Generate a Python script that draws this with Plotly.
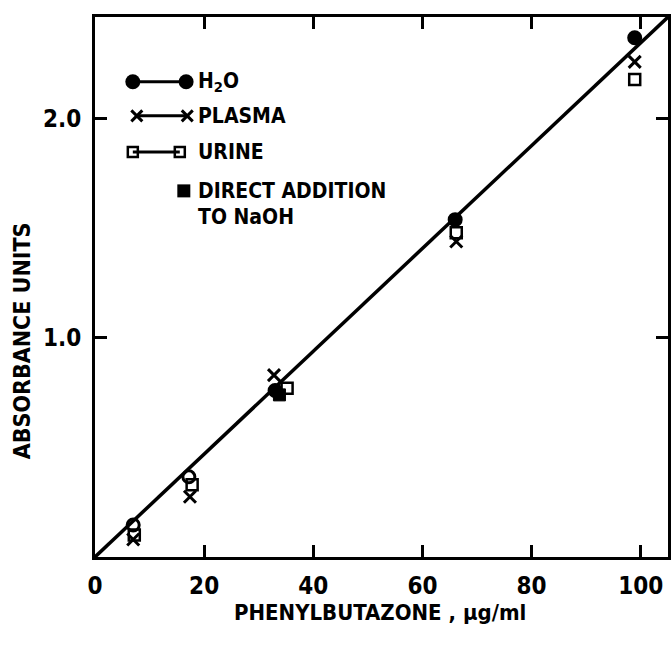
import plotly.graph_objects as go

# ---- data ----
conc_h2o = [7.0, 17.2, 33.0, 66.0, 98.9]
abs_h2o = [0.146, 0.366, 0.76, 1.54, 2.37]

conc_plasma = [7.0, 17.4, 32.8, 66.2, 98.9]
abs_plasma = [0.08, 0.275, 0.83, 1.44, 2.26]

conc_urine = [7.2, 17.8, 35.2, 66.2, 98.9]
abs_urine = [0.10, 0.33, 0.77, 1.48, 2.18]

conc_direct = [33.8]
abs_direct = [0.74]

fit_x = [0, 105]
fit_y = [0, 2.465]

x_ticks = [0, 20, 40, 60, 80, 100]
y_ticks = [1.0, 2.0]
y_ticktext = ["1.0", "2.0"]

FONT = "DejaVu Sans Condensed, Liberation Sans Narrow, sans-serif"

h2o_symbols = ["circle-open", "circle-open", "circle", "circle", "circle"]

fig = go.Figure()

fig.add_trace(go.Scatter(x=fit_x, y=fit_y, mode="lines",
                         line=dict(color="black", width=3.5), showlegend=False, hoverinfo="skip"))
fig.add_trace(go.Scatter(x=conc_h2o, y=abs_h2o, mode="markers", name="H2O",
                         marker=dict(symbol=h2o_symbols, size=12, color="black",
                                     line=dict(color="black", width=3)), showlegend=False))
fig.add_trace(go.Scatter(x=conc_urine, y=abs_urine, mode="markers", name="URINE",
                         marker=dict(symbol="square-open", size=11, color="black",
                                     line=dict(color="black", width=2.5)), showlegend=False))
fig.add_trace(go.Scatter(x=conc_plasma, y=abs_plasma, mode="markers", name="PLASMA",
                         marker=dict(symbol="x-thin", size=12, color="black",
                                     line=dict(color="black", width=3)), showlegend=False))
fig.add_trace(go.Scatter(x=conc_direct, y=abs_direct, mode="markers", name="DIRECT",
                         marker=dict(symbol="square", size=12, color="black",
                                     line=dict(color="black", width=1)), showlegend=False))

# ---- hand-drawn style legend on an overlay axis (0..1 of the plot area) ----
leg_rows = [
    (0.066, 0.159, 0.880, "circle", 15, 0),
    (0.073, 0.161, 0.817, "x-thin", 11, 3),
    (0.066, 0.148, 0.750, "square-open", 10, 2.5),
]
for x0, x1, yy, sym, sz, lw in leg_rows:
    fig.add_trace(go.Scatter(x=[x0, x1], y=[yy, yy], xaxis="x2", yaxis="y2",
                             mode="lines+markers", showlegend=False, hoverinfo="skip",
                             line=dict(color="black", width=3),
                             marker=dict(symbol=sym, size=sz, color="black",
                                         line=dict(color="black", width=lw))))
fig.add_trace(go.Scatter(x=[0.155], y=[0.678], xaxis="x2", yaxis="y2", mode="markers",
                         showlegend=False, hoverinfo="skip",
                         marker=dict(symbol="square", size=13, color="black")))

leg_text = [("H<sub>2</sub>O", 0.880), ("PLASMA", 0.817), ("URINE", 0.750),
            ("DIRECT ADDITION", 0.678), ("TO NaOH", 0.630)]
annotations = []
for t, yy in leg_text:
    annotations.append(dict(text=t, x=0.176, y=yy, xref="paper", yref="paper",
                            xanchor="left", yanchor="middle", showarrow=False,
                            font=dict(family=FONT, size=21, color="black", weight="bold")))

annotations.append(dict(text="PHENYLBUTAZONE , µg/ml", x=0.497, y=-0.102,
                        xref="paper", yref="paper", xanchor="center", yanchor="middle",
                        showarrow=False, font=dict(family=FONT, size=22, color="black", weight="bold")))
annotations.append(dict(text="ABSORBANCE UNITS", x=-0.127, y=0.40, textangle=-90,
                        xref="paper", yref="paper", xanchor="center", yanchor="middle",
                        showarrow=False, font=dict(family=FONT, size=23, color="black", weight="bold")))

axis_common = dict(showgrid=False, zeroline=False, showline=True, linecolor="black",
                   linewidth=3, mirror="allticks", ticks="inside", ticklen=12,
                   tickwidth=2.5, tickcolor="black", automargin=False,
                   tickfont=dict(family=FONT, size=24, color="black", weight="bold"))

fig.update_layout(
    width=671, height=656,
    margin=dict(l=95, r=3, t=17, b=99),
    paper_bgcolor="white", plot_bgcolor="white",
    xaxis=dict(range=[0, 105], tickvals=x_ticks, ticktext=[str(v) for v in x_ticks],
               ticklabelstandoff=5, **axis_common),
    yaxis=dict(range=[0, 2.465], tickvals=y_ticks, ticktext=y_ticktext,
               ticklabelstandoff=6, **axis_common),
    xaxis2=dict(range=[0, 1], overlaying="x", visible=False),
    yaxis2=dict(range=[0, 1], overlaying="y", visible=False),
    annotations=annotations,
    showlegend=False,
)

fig.write_html("out.html", config={"displayModeBar": False},
               post_script="document.body.style.margin='0';document.body.style.overflow='hidden';")
